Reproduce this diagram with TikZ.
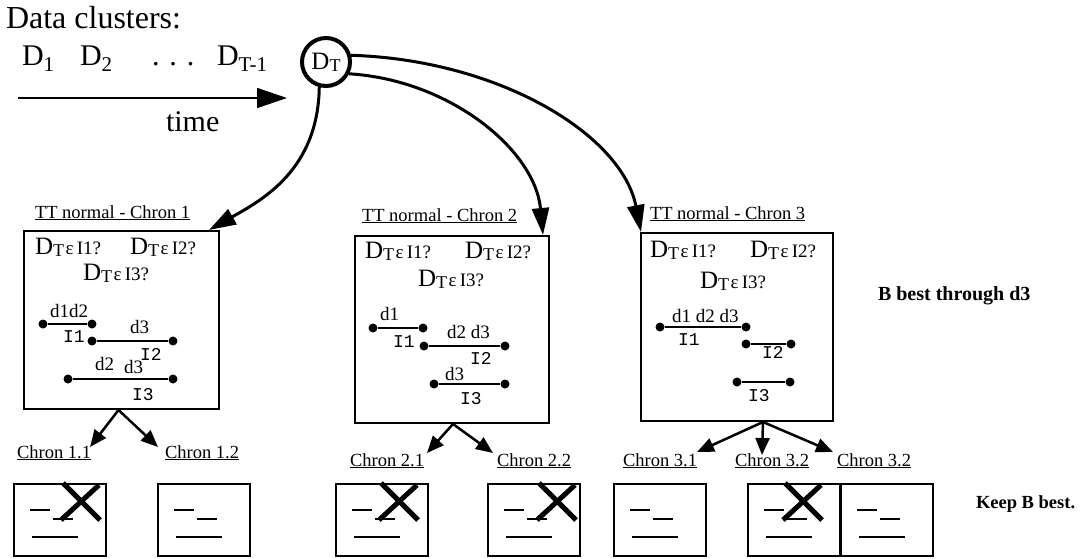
\documentclass[tikz,border=0pt]{standalone}
\usepackage{fontspec}
\setmainfont{Liberation Serif}
\setmonofont{Liberation Mono}
\usetikzlibrary{arrows.meta}
\newcommand{\fsz}[1]{\fontsize{#1}{#1}\selectfont}
\newcommand{\DTsym}[2]{{\fsz{#1}D}\raisebox{-0.22em}{\fsz{#2}T}}
\newcommand{\inq}[1]{\DTsym{25}{18}\,{\fsz{19}ε\,I#1?}}
\tikzset{
  lbl/.style={inner sep=0pt, outer sep=0pt, anchor=base west},
  big/.style={lbl, font=\fsz{30}},
  dlab/.style={lbl, font=\fsz{19}},
  ilab/.style={lbl, font=\ttfamily\fsz{18}},
  clab/.style={lbl, font=\fsz{18.5}},
  bold/.style={lbl, font=\bfseries\fsz{20}},
  bigbox/.style={draw, line width=2pt, inner sep=0pt, anchor=north west},
  sbox/.style={draw, line width=2pt, inner sep=0pt, anchor=north west, minimum width=92pt, minimum height=72pt},
  ptdot/.style={circle, fill, inner sep=0pt, minimum size=9pt},
  segline/.style={line width=2pt},
  sline/.style={line width=2.5pt},
  xline/.style={line width=5pt},
  bigarrow/.style={line width=3pt, -{Triangle[length=27pt,width=17pt]}},
  subarrow/.style={line width=2.5pt, -{Triangle[length=17pt,width=14pt]}},
  timearrow/.style={line width=1.5pt, -{Triangle[length=30pt,width=20pt]}}
}
\newcommand{\seg}[3]{\node[ptdot] (#1a) at (#2) {}; \node[ptdot] (#1b) at (#3) {}; \draw[segline] (#1a) -- (#1b);}
\newcommand{\chronbox}[2]{%
  \node[sbox] (#1) at (#2,483) {};
  \draw[sline] ([shift={(17,27)}]#1.north west) -- ++(20,0);
  \draw[sline] ([shift={(40,36)}]#1.north west) -- ++(20,0);
  \draw[sline] ([shift={(19,54)}]#1.north west) -- ++(46,0);
}
\newcommand{\xmark}[2]{%
  \draw[xline] ([shift={(#2,0)}]#1.north west) -- ++(37,37);
  \draw[xline] ([shift={(#2-2,37)}]#1.north west) -- ++(38,-35);
}
\begin{document}
\begin{tikzpicture}[x=1pt,y=-1pt]
\useasboundingbox (0,0) rectangle (1083,558);
% top
\node[big, font=\fsz{32}] (title) at (6,28) {Data clusters:};
\node[big] (d1) at (22,65) {D\raisebox{-0.22em}{\fsz{21}1}};
\node[big] (d2) at (80,65) {D\raisebox{-0.22em}{\fsz{21}2}};
\node[big] (dots) at (152,65) {. . .};
\node[big] (dtm) at (217,65) {D\raisebox{-0.22em}{\fsz{21}T-1}};
\coordinate (ts) at (18,98);
\coordinate (te) at (287,98);
\draw[timearrow] (ts) -- (te);
\node[big] (time) at (166,131) {time};
\node[draw, circle, line width=4pt, minimum size=48pt, inner sep=0pt] (DT) at (326,62) {\DTsym{25}{18}};
% big boxes
\node[bigbox, minimum width=195pt, minimum height=178pt] (box1) at (23,230) {};
\node[bigbox, minimum width=194pt, minimum height=187pt] (box2) at (354,235) {};
\node[bigbox, minimum width=192pt, minimum height=188pt] (box3) at (640,232) {};
\node[clab] (t1) at (35,218) {\underline{TT normal - Chron 1}};
\node[clab] (t2) at (362,221) {\underline{TT normal - Chron 2}};
\node[clab] (t3) at (650,219) {\underline{TT normal - Chron 3}};
\draw[bigarrow] (DT.-105) .. controls (318,170) and (262,200) .. ([xshift=-11pt]box1.north east);
\draw[bigarrow] (DT.-27) .. controls (450,80) and (535,150) .. ([xshift=-7pt]box2.north east);
\draw[bigarrow] (DT.15) .. controls (500,60) and (622,135) .. ([xshift=1pt]box3.north west);
% box1 content
\node[lbl] (q11) at (35,254) {\inq{1}};
\node[lbl] (q12) at (130,254) {\inq{2}};
\node[lbl] (q13) at (83,280) {\inq{3}};
\seg{b1i1}{43,324}{92,324}
\seg{b1i2}{92,341}{173,341}
\seg{b1i3}{68,379}{173,379}
\node[dlab] (b1d12) at (50,317) {d1d2};
\node[dlab] (b1d3) at (130,333) {d3};
\node[dlab] (b1d2b) at (95,370) {d2};
\node[dlab] (b1d3b) at (124,373) {d3};
\node[ilab] (b1I1) at (63,342) {I1};
\node[ilab] (b1I2) at (140,360) {I2};
\node[ilab] (b1I3) at (132,400) {I3};
% box2 content
\node[lbl] (q21) at (365,258) {\inq{1}};
\node[lbl] (q22) at (465,258) {\inq{2}};
\node[lbl] (q23) at (418,286) {\inq{3}};
\seg{b2i1}{373,328}{423,328}
\seg{b2i2}{424,346}{505,346}
\seg{b2i3}{434,384}{505,384}
\node[dlab] (b2d1) at (380,320) {d1};
\node[dlab] (b2d23) at (447,338) {d2 d3};
\node[dlab] (b2d3) at (445,380) {d3};
\node[ilab] (b2I1) at (393,347) {I1};
\node[ilab] (b2I2) at (470,364) {I2};
\node[ilab] (b2I3) at (460,404) {I3};
% box3 content
\node[lbl] (q31) at (650,257) {\inq{1}};
\node[lbl] (q32) at (750,257) {\inq{2}};
\node[lbl] (q33) at (700,288) {\inq{3}};
\seg{b3i1}{660,327}{746,327}
\seg{b3i2}{746,344}{791,344}
\seg{b3i3}{737,382}{790,382}
\node[dlab] (b3d123) at (672,322) {d1 d2 d3};
\node[ilab] (b3I1) at (678,345) {I1};
\node[ilab] (b3I2) at (762,358) {I2};
\node[ilab] (b3I3) at (748,401) {I3};
% right side texts
\node[bold] (bbest) at (878,300) {B best through d3};
\node[bold, font=\bfseries\fsz{18.5}] (keep) at (976,508) {Keep B best.};
% chron labels
\node[clab] (c11) at (17,458) {\underline{Chron 1.1}};
\node[clab] (c12) at (165,458) {\underline{Chron 1.2}};
\node[clab] (c21) at (350,466) {\underline{Chron 2.1}};
\node[clab] (c22) at (497,466) {\underline{Chron 2.2}};
\node[clab] (c31) at (623,466) {\underline{Chron 3.1}};
\node[clab] (c32) at (735,466) {\underline{Chron 3.2}};
\node[clab] (c33) at (837,466) {\underline{Chron 3.2}};
\coordinate (a11) at (90,447);
\coordinate (a12) at (158,447);
\coordinate (a21) at (427,453);
\coordinate (a22) at (493,453);
\coordinate (a31) at (697,452);
\coordinate (a32) at (762,455);
\coordinate (a33) at (833,452);
\draw[subarrow] ([xshift=-3pt]box1.south) -- (a11);
\draw[subarrow] ([xshift=-3pt]box1.south) -- (a12);
\draw[subarrow] ([xshift=1pt]box2.south) -- (a21);
\draw[subarrow] ([xshift=1pt]box2.south) -- (a22);
\draw[subarrow] ([xshift=26pt]box3.south) -- (a31);
\draw[subarrow] ([xshift=26pt]box3.south) -- (a32);
\draw[subarrow] ([xshift=26pt]box3.south) -- (a33);
% small boxes
\chronbox{sA}{13}
\chronbox{sB}{157}
\chronbox{s21}{335}
\chronbox{s22}{487}
\chronbox{s31}{613}
\chronbox{s32}{747}
\chronbox{s33}{840}
\xmark{sA}{50}
\xmark{s21}{46}
\xmark{s22}{52}
\xmark{s32}{38}
\end{tikzpicture}
\end{document}
